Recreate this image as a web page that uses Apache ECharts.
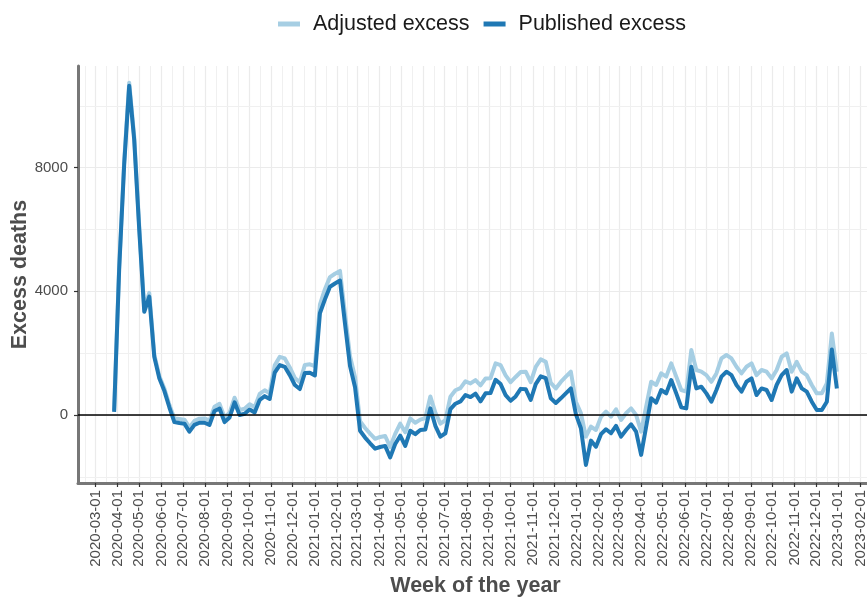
<!DOCTYPE html>
<html>
<head>
<meta charset="utf-8">
<title>Excess deaths by week</title>
<script src="https://cdn.jsdelivr.net/npm/echarts@6/dist/echarts.min.js"></script>
<style>
  html, body { margin: 0; padding: 0; background: #ffffff; }
  #chart { width: 867px; height: 599px; }
</style>
</head>
<body>
<div id="chart"></div>
<script>
// Weekly series, first week ending 2020-03-27, one value per week.
const firstWeekEnding = '2020-03-27';

const adjustedExcess = [
  150, 4800, 8200, 10750, 9000, 6100, 3450, 3950, 1950, 1260,
  860, 330, -110, -130, -150, -400, -190, -120, -110, -180,
  270, 360, -80, 70, 560, 160, 200, 350, 250, 680,
  800, 700, 1610, 1880, 1830, 1540, 1200, 1060, 1620, 1640,
  1580, 3570, 4070, 4460, 4570, 4660, 3260, 1900, 1220, -200,
  -420, -600, -770, -710, -680, -1030, -610, -280, -560, -110,
  -250, -150, -100, 600, 80, -280, -170, 590, 800, 870,
  1090, 1020, 1130, 960, 1180, 1190, 1670, 1610, 1280, 1060,
  1230, 1390, 1400, 1060, 1560, 1800, 1720, 1040, 860, 1070,
  1240, 1400, 430, 60, -700, -375, -485, -60, 110, -55,
  185, -160, 55, 215, 0, -540, 270, 1075, 970, 1345,
  1240, 1670, 1240, 808, 755, 2100, 1455, 1400, 1290, 1075,
  1345, 1830, 1940, 1830, 1560, 1345, 1560, 1670, 1290, 1455,
  1400, 1185, 1455, 1885, 1995, 1400, 1720, 1400, 1290, 970,
  700, 700, 1025, 2640, 1400
];

const publishedExcess = [
  100, 4700, 8100, 10650, 8900, 6000, 3340, 3830, 1880, 1190,
  780, 250, -230, -260, -280, -540, -320, -250, -250, -320,
  130, 210, -230, -80, 410, 0, 40, 180, 80, 485,
  610, 520, 1370, 1615, 1560, 1290, 970, 840, 1360, 1370,
  1280, 3290, 3740, 4150, 4255, 4350, 2950, 1580, 900, -510,
  -730, -915, -1090, -1035, -1000, -1370, -940, -670, -1000, -510,
  -620, -485, -470, 215, -350, -700, -590, 190, 365, 440,
  645, 580, 690, 440, 700, 710, 1140, 1000, 645, 460,
  600, 845, 835, 485, 1000, 1250, 1190, 540, 390, 540,
  700, 860, 30, -430, -1615, -830, -1025, -620, -460, -590,
  -350, -700, -485, -300, -540, -1290, -375, 540, 400, 808,
  700, 1130, 700, 250, 215, 1560, 860, 915, 700, 430,
  808, 1240, 1400, 1290, 970, 755, 1075, 1185, 645, 860,
  808, 485, 970, 1290, 1455, 755, 1185, 860, 755, 430,
  160, 160, 430, 2120, 860
];

// Axis ticks and gridlines
const yTickValues = [0, 4000, 8000];
const yMinorGrid = [-2000, 2000, 6000, 10000];
const firstMonthTick = [2020, 3];   // year, month
const lastMonthTick = [2023, 2];
const seriesNames = ['Adjusted excess', 'Published excess'];
const axisTitles = { x: 'Week of the year', y: 'Excess deaths' };

function parseDay(s) {
  const p = s.split('-').map(Number);
  return new Date(p[0], p[1] - 1, p[2]).getTime();
}
function pad(n) { return (n < 10 ? '0' : '') + n; }
function fmtDay(t) {
  const d = new Date(t);
  return d.getFullYear() + '-' + pad(d.getMonth() + 1) + '-' + pad(d.getDate());
}

// Weekly time stamps
const t0 = parseDay(firstWeekEnding);
const weeks = publishedExcess.map((_, i) => {
  const d = new Date(t0);
  d.setDate(d.getDate() + 7 * i);
  return d.getTime();
});

// Month starts used for labels, ticks and major vertical gridlines
const monthTicks = [];
{
  let y = firstMonthTick[0], m = firstMonthTick[1];
  while (y < lastMonthTick[0] || (y === lastMonthTick[0] && m <= lastMonthTick[1])) {
    monthTicks.push(new Date(y, m - 1, 1).getTime());
    m++; if (m > 12) { m = 1; y++; }
  }
}

// x range padded by 5% of the data span on each side
const span = weeks[weeks.length - 1] - weeks[0];
const xMin = weeks[0] - 0.05 * span;
const xMax = weeks[weeks.length - 1] + 0.05 * span;

// minor vertical gridlines half way between month starts
const prevMonth = new Date(monthTicks[0]); prevMonth.setMonth(prevMonth.getMonth() - 1);
const nextMonth = new Date(monthTicks[monthTicks.length - 1]); nextMonth.setMonth(nextMonth.getMonth() + 1);
const allMonths = [prevMonth.getTime()].concat(monthTicks, [nextMonth.getTime()]);
const minorX = [];
for (let i = 0; i + 1 < allMonths.length; i++) minorX.push((allMonths[i] + allMonths[i + 1]) / 2);

const inX = t => t > xMin && t < xMax;
const minorStyle = { color: '#f0f0f0', width: 1, type: 'solid' };
const majorStyle = { color: '#ebebeb', width: 1.2, type: 'solid' };

const gridLines = []
  .concat(minorX.filter(inX).map(t => ({ xAxis: t, lineStyle: minorStyle })))
  .concat(allMonths.filter(inX).map(t => ({ xAxis: t, lineStyle: majorStyle })))
  .concat(yMinorGrid.map(v => ({ yAxis: v, lineStyle: minorStyle })))
  .concat(yTickValues.map(v => ({ yAxis: v, lineStyle: majorStyle })));

const chart = echarts.init(document.getElementById('chart'), null, { renderer: 'canvas' });

const axisGrey = '#777777';
const labelGrey = '#4d4d4d';
const fontFamily = '"Liberation Sans", Arial, Helvetica, sans-serif';

chart.setOption({
  animation: false,
  backgroundColor: '#ffffff',
  textStyle: { fontFamily: fontFamily },
  grid: { left: 78, right: -6, top: 66, bottom: 116, outerBoundsMode: 'none', containLabel: false },
  legend: {
    data: seriesNames,
    left: 273,
    top: 8,
    icon: 'rect',
    itemWidth: 22,
    itemHeight: 5,
    itemGap: 14,
    textStyle: { fontSize: 21.5, color: '#1a1a1a', fontFamily: fontFamily, padding: [0, 0, 0, 8] }
  },
  xAxis: {
    type: 'value',
    min: xMin,
    max: xMax,
    scale: true,
    name: axisTitles.x,
    nameLocation: 'middle',
    nameGap: 92,
    nameMoveOverlap: false,
    nameTextStyle: { fontSize: 21.5, fontWeight: 'bold', color: labelGrey, fontFamily: fontFamily },
    splitLine: { show: false },
    axisLine: { show: true, onZero: false, lineStyle: { color: axisGrey, width: 3 } },
    axisTick: { show: true, customValues: monthTicks, length: 4, lineStyle: { color: '#333333', width: 1.2 } },
    axisLabel: {
      customValues: monthTicks,
      rotate: 90,
      fontSize: 15,
      color: labelGrey,
      margin: 7,
      hideOverlap: false,
      showMinLabel: true,
      showMaxLabel: true,
      formatter: v => fmtDay(v)
    }
  },
  yAxis: {
    type: 'value',
    min: -2200,
    max: 11290,
    name: axisTitles.y,
    nameLocation: 'middle',
    nameGap: 47,
    nameMoveOverlap: false,
    nameTextStyle: { fontSize: 21.5, fontWeight: 'bold', color: labelGrey, fontFamily: fontFamily },
    splitLine: { show: false },
    axisLine: { show: true, lineStyle: { color: axisGrey, width: 3 } },
    axisTick: { show: true, customValues: yTickValues, length: 4, lineStyle: { color: '#333333', width: 1.2 } },
    axisLabel: { customValues: yTickValues, fontSize: 15, color: labelGrey, margin: 10, formatter: v => String(v) }
  },
  series: [
    {
      name: 'grid',
      type: 'line',
      data: [],
      z: 0,
      silent: true,
      markLine: {
        z: 0,
        silent: true,
        symbol: ['none', 'none'],
        label: { show: false },
        emphasis: { disabled: true },
        data: gridLines
      }
    },
    {
      name: seriesNames[0],
      type: 'line',
      data: weeks.map((t, i) => [t, adjustedExcess[i]]),
      showSymbol: false,
      z: 2,
      itemStyle: { color: '#a6cee3' },
      lineStyle: { color: '#a6cee3', width: 4, join: 'round' }
    },
    {
      name: seriesNames[1],
      type: 'line',
      data: weeks.map((t, i) => [t, publishedExcess[i]]),
      showSymbol: false,
      z: 3,
      itemStyle: { color: '#1f78b4' },
      lineStyle: { color: '#1f78b4', width: 4, join: 'round' }
    },
    {
      name: 'zero',
      type: 'line',
      data: [],
      z: 6,
      silent: true,
      markLine: {
        z: 6,
        silent: true,
        symbol: ['none', 'none'],
        label: { show: false },
        emphasis: { disabled: true },
        lineStyle: { color: '#000000', width: 1.5, type: 'solid' },
        data: [{ yAxis: 0 }]
      }
    }
  ]
});
</script>
</body>
</html>
